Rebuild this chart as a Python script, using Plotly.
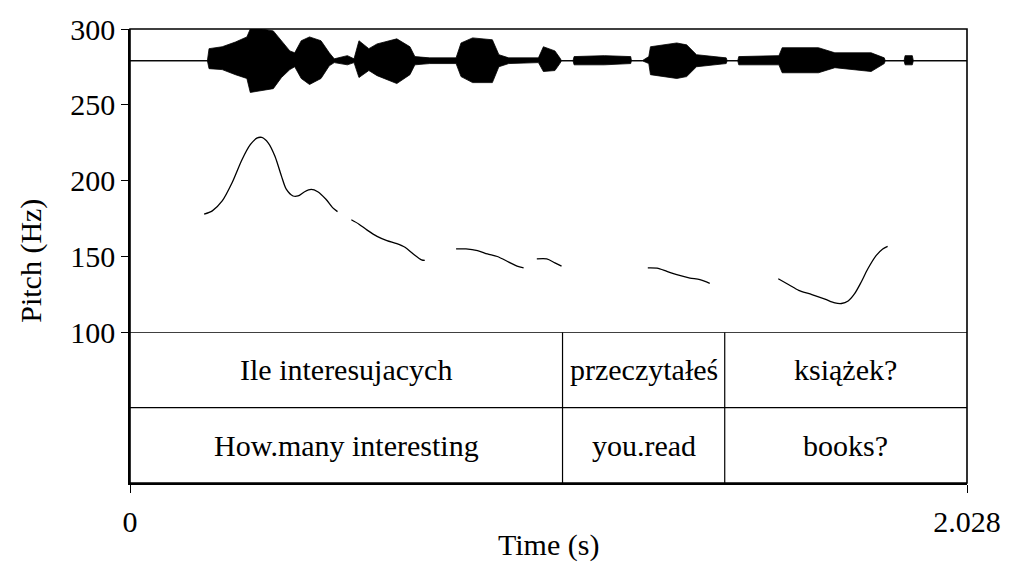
import plotly.graph_objects as go

# ---------------- data ----------------
# Pitch contour (time s, F0 Hz); None separates voiced stretches
pitch_t = [0.1796, 0.1994, 0.2234, 0.2473, 0.2713, 0.2914, 0.3072, 0.3192, 0.3352, 0.3512,
           0.3670, 0.3790, 0.3951, 0.4070, 0.4231, 0.4389, 0.4549, 0.4748, 0.4908, 0.5028, None,
           0.5363, 0.5548, 0.5747, 0.5986, 0.6225, 0.6465, 0.6663, 0.6864, 0.7063, 0.7142, None,
           0.7901, 0.8141, 0.8421, 0.8660, 0.8900, 0.9177, 0.9378, 0.9537, None,
           0.9857, 1.0097, 1.0295, 1.0456, None,
           1.2546, 1.2769, 1.3008, 1.3248, 1.3568, 1.3808, 1.4047, None,
           1.5707, 1.5963, 1.6203, 1.6521, 1.6839, 1.7079, 1.7239, 1.7400, 1.7557, 1.7718,
           1.7878, 1.8077, 1.8238, 1.8357]
pitch_hz = [177.9, 180.1, 186.6, 198.6, 213.8, 223.7, 228.0, 228.5, 224.8, 216.1,
            203.0, 194.2, 189.9, 189.9, 192.7, 194.2, 192.7, 187.7, 182.2, 179.6, None,
            174.2, 171.3, 167.4, 163.3, 160.5, 158.5, 156.1, 151.7, 147.8, 147.4, None,
            155.0, 155.0, 153.9, 151.7, 150.0, 146.3, 143.6, 142.5, None,
            148.4, 148.4, 145.8, 143.6, None,
            142.5, 142.3, 140.2, 138.0, 135.8, 134.7, 132.3, None,
            135.3, 131.4, 127.7, 124.9, 121.9, 119.4, 119.0, 120.7, 125.5, 133.2,
            141.9, 150.6, 155.0, 156.7]

# Waveform envelope (time s, upper / lower normalised amplitude)
wave_t = [0.0, 0.1875, 0.1915, 0.2234, 0.2555, 0.2832, 0.2914, 0.3192, 0.3472, 0.3670,
          0.3872, 0.3991, 0.4149, 0.4350, 0.4628, 0.4829, 0.4949, 0.5267, 0.5428, 0.5548,
          0.5787, 0.5986, 0.6465, 0.6783, 0.6903, 0.7262, 0.7901, 0.8021, 0.8301, 0.8780,
          0.8938, 0.9177, 0.9896, 1.0016, 1.0295, 1.0415, 1.0456, 1.0734, 1.0760, 1.1493,
          1.2132, 1.2150, 1.2410, 1.2570, 1.2611, 1.3248, 1.3488, 1.3727, 1.4445, 1.4470,
          1.4725, 1.4750, 1.5723, 1.5802, 1.6681, 1.7079, 1.7957, 1.8276, 1.8300, 1.8755,
          1.8780, 1.8955, 1.8980, 2.028]
wave_hi = [0.0, 0.0, 0.38, 0.44, 0.59, 0.75, 1.0, 1.0, 0.94, 0.63,
           0.31, 0.25, 0.63, 0.75, 0.63, 0.25, 0.06, 0.16, 0.06, 0.63,
           0.38, 0.53, 0.69, 0.44, 0.13, 0.09, 0.09, 0.56, 0.72, 0.66,
           0.19, 0.09, 0.09, 0.44, 0.31, 0.09, 0.0, 0.0, 0.13, 0.16,
           0.13, 0.0, 0.0, 0.13, 0.44, 0.56, 0.50, 0.19, 0.09, 0.0,
           0.0, 0.13, 0.16, 0.41, 0.41, 0.25, 0.25, 0.09, 0.0, 0.0,
           0.16, 0.16, 0.0, 0.0]
wave_lo = [0.0, 0.0, -0.25, -0.28, -0.44, -0.56, -1.0, -0.94, -0.88, -0.53,
           -0.28, -0.19, -0.56, -0.75, -0.56, -0.16, -0.06, -0.13, -0.06, -0.53,
           -0.31, -0.47, -0.72, -0.44, -0.13, -0.09, -0.09, -0.50, -0.69, -0.69,
           -0.19, -0.09, -0.06, -0.34, -0.31, -0.09, 0.0, 0.0, -0.13, -0.13,
           -0.09, 0.0, 0.0, -0.09, -0.44, -0.56, -0.50, -0.19, -0.09, 0.0,
           0.0, -0.13, -0.13, -0.38, -0.38, -0.22, -0.34, -0.09, 0.0, 0.0,
           -0.13, -0.13, 0.0, 0.0]

# Text grid
tier_bounds = [0.0, 1.048, 1.441, 2.028]
tier1_labels = ["Ile interesujacych", "przeczytałeś", "książek?"]
tier2_labels = ["How.many interesting", "you.read", "books?"]

x_range = [0.0, 2.028]
x_ticks = [0.0, 2.028]
x_ticktext = ["0", "2.028"]
y_range = [100, 300]
y_ticks = [100, 150, 200, 250, 300]

# ---------------- figure ----------------
FONT = "Liberation Serif, Times New Roman, serif"
FS = 30
pitch_dom = [0.3319, 1.0]

fig = go.Figure()

# waveform envelope
fig.add_trace(go.Scatter(x=wave_t, y=wave_hi, yaxis="y3", mode="lines",
                         line=dict(color="black", width=0.8),
                         hoverinfo="skip", showlegend=False))
fig.add_trace(go.Scatter(x=wave_t, y=wave_lo, yaxis="y3", mode="lines", fill="tonexty",
                         fillcolor="black",
                         line=dict(color="black", width=0.8),
                         hoverinfo="skip", showlegend=False))
fig.add_trace(go.Scatter(x=x_range, y=[0, 0], yaxis="y3", mode="lines",
                         line=dict(color="black", width=1), hoverinfo="skip", showlegend=False))

# pitch contour
fig.add_trace(go.Scatter(x=pitch_t, y=pitch_hz, yaxis="y", mode="lines",
                         line=dict(color="black", width=1.3, shape="spline", smoothing=0.8),
                         connectgaps=False, showlegend=False))

shapes = []
# outer frame
shapes.append(dict(type="rect", xref="paper", yref="paper", x0=0, x1=1, y0=0, y1=1,
                   line=dict(color="black", width=1.6), layer="above"))
# horizontal tier lines
for yv in [2, 1]:
    shapes.append(dict(type="line", xref="paper", yref="y2", x0=0, x1=1, y0=yv, y1=yv,
                       line=dict(color="black", width=1.4)))
# vertical tier boundaries
for b in tier_bounds[1:-1]:
    shapes.append(dict(type="line", xref="x", yref="y2", x0=b, x1=b, y0=0, y1=2,
                       line=dict(color="black", width=1.2)))

annotations = []
for i in range(len(tier1_labels)):
    mid = (tier_bounds[i] + tier_bounds[i + 1]) / 2
    annotations.append(dict(x=mid, y=1.5, xref="x", yref="y2", text=tier1_labels[i],
                            showarrow=False, font=dict(family=FONT, size=FS, color="black")))
    annotations.append(dict(x=mid, y=0.5, xref="x", yref="y2", text=tier2_labels[i],
                            showarrow=False, font=dict(family=FONT, size=FS, color="black")))
annotations.append(dict(x=-0.1192, y=0.49, xref="paper", yref="paper", text="Pitch (Hz)",
                        textangle=-90, showarrow=False, xanchor="center", yanchor="middle",
                        font=dict(family=FONT, size=FS, color="black")))
annotations.append(dict(x=0.5, y=-0.1376, xref="paper", yref="paper", text="Time (s)",
                        showarrow=False, xanchor="center", yanchor="middle",
                        font=dict(family=FONT, size=FS, color="black")))

fig.update_layout(
    width=1013, height=563,
    margin=dict(l=130, r=36, t=25, b=80),
    paper_bgcolor="white", plot_bgcolor="white",
    font=dict(family=FONT, size=FS, color="black"),
    xaxis=dict(range=x_range, domain=[0, 1], anchor="y2", showgrid=False, zeroline=False,
               showline=True, linecolor="black", linewidth=1.6,
               tickmode="array", tickvals=x_ticks, ticktext=x_ticktext,
               ticks="outside", ticklen=8, tickwidth=1.4, tickcolor="black",
               ticklabelstandoff=3,
               tickfont=dict(family=FONT, size=FS, color="black")),
    yaxis=dict(range=y_range, domain=pitch_dom, anchor="x", showgrid=False, zeroline=False,
               showline=True, linecolor="black", linewidth=1.6,
               tickmode="array", tickvals=y_ticks,
               ticks="outside", ticklen=7, tickwidth=1.4, tickcolor="black",
               tickfont=dict(family=FONT, size=FS, color="black")),
    yaxis2=dict(range=[0, 2], domain=[0, pitch_dom[0]], anchor="x", showgrid=False,
                zeroline=False, showline=True, linecolor="black", linewidth=1.6,
                showticklabels=False, ticks=""),
    yaxis3=dict(range=[-8.5625, 1.0], overlaying="y", anchor="x", visible=False,
                showgrid=False, zeroline=False),
    shapes=shapes,
    annotations=annotations,
    showlegend=False,
)

fig.write_html("out.html",
               config={"displayModeBar": False},
               post_script="document.body.style.margin='0';document.body.style.padding='0';"
                           "document.documentElement.style.overflow='hidden';")
